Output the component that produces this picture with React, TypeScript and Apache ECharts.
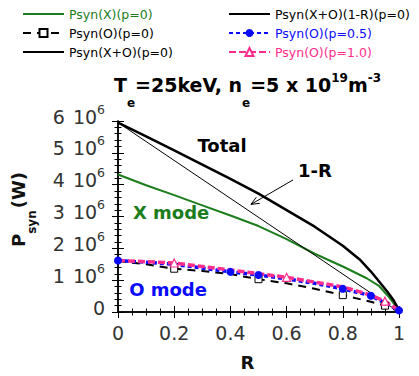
import React, { useEffect, useRef } from "react";
import * as echarts from "echarts";

const FONT = '"DejaVu Sans", Verdana, sans-serif';
const GREEN = "#1b7d1b";
const BLUE = "#0a0aff";
const PINK = "#ff2d8c";

// Psyn(X)(p=0)
const R_X = [0, 0.1, 0.2, 0.3, 0.4, 0.5, 0.6, 0.7, 0.8, 0.885, 0.93, 0.965, 1.0];
const P_X = [4.32e6, 3.98e6, 3.67e6, 3.35e6, 3.03e6, 2.7e6, 2.29e6, 1.83e6, 1.43e6, 1.06e6, 0.81e6, 0.46e6, 0.05e6];

// Psyn(O)(p=0)
const R_O0 = [0, 0.1, 0.2, 0.3, 0.4, 0.5, 0.6, 0.7, 0.8, 0.9, 0.95, 1.0];
const P_O0 = [1.6e6, 1.5e6, 1.36e6, 1.29e6, 1.19e6, 1.03e6, 0.9e6, 0.73e6, 0.53e6, 0.32e6, 0.2e6, 0.02e6];
const M_O0 = [0, 0, 1, 0, 0, 1, 0, 0, 1, 0, 1, 0];

// Psyn(X+O)(p=0)
const R_T = [0, 0.1, 0.2, 0.3, 0.4, 0.5, 0.6, 0.7, 0.8, 0.86, 0.9, 0.93, 0.96, 0.98, 1.0];
const P_T = [5.95e6, 5.52e6, 5.08e6, 4.63e6, 4.18e6, 3.72e6, 3.2e6, 2.68e6, 2.08e6, 1.65e6, 1.27e6, 0.95e6, 0.62e6, 0.38e6, 0.06e6];

// Psyn(X+O)(1-R)(p=0)
const R_L = [0, 1];
const P_L = [5.95e6, 0];

// Psyn(O)(p=0.5)
const R_O05 = [0, 0.2, 0.4, 0.5, 0.6, 0.7, 0.8, 0.9, 1.0];
const P_O05 = [1.62e6, 1.5e6, 1.26e6, 1.16e6, 1.04e6, 0.9e6, 0.73e6, 0.51e6, 0.05e6];
const M_O05 = [1, 0, 1, 1, 0, 0, 1, 1, 1];

// Psyn(O)(p=1.0)
const R_O1 = [0, 0.2, 0.4, 0.6, 0.8, 0.9, 0.95, 1.0];
const P_O1 = [1.62e6, 1.54e6, 1.32e6, 1.09e6, 0.79e6, 0.53e6, 0.34e6, 0.05e6];
const M_O1 = [0, 1, 0, 1, 0, 0, 1, 0];

const X_TICKS = { min: 0, max: 1, interval: 0.2 };
const Y_TICKS = { min: 0, max: 6e6, interval: 1e6 };

function mk(rs: number[], ps: number[], marks?: number[]) {
  return rs.map((r, i) =>
    marks && !marks[i] ? { value: [r, ps[i]], symbol: "none" } : { value: [r, ps[i]] }
  );
}

let _ctx: CanvasRenderingContext2D | null = null;
function tw(text: string, font: string) {
  if (!_ctx) _ctx = document.createElement("canvas").getContext("2d");
  _ctx!.font = font;
  return _ctx!.measureText(text).width;
}

type Part = { t: string; size: number; dy: number; gap?: number };
function run(parts: Part[], weight: string, color: string, y: number) {
  let x = 0;
  const els: any[] = [];
  for (const p of parts) {
    x += p.gap || 0;
    const font = `${weight} ${p.size}px ${FONT}`;
    els.push({
      type: "text",
      x,
      y: y + p.dy,
      silent: true,
      style: { text: p.t, font, fill: color, textAlign: "left", textVerticalAlign: "middle" },
    });
    x += tw(p.t, font);
  }
  return { els, width: x };
}

export default function App() {
  const ref = useRef<HTMLDivElement>(null);
  useEffect(() => {
    const chart = echarts.init(ref.current!, null, { renderer: "svg" });
    const axisLine = { show: true, lineStyle: { color: "#000", width: 1.5 } };
    const axisTick = { show: true, inside: true, length: 6, lineStyle: { color: "#000", width: 1 } };
    const labelStyle = { fontFamily: FONT, fontSize: 19, color: "#333" };
    const legendText = { fontFamily: FONT, fontSize: 12.5, lineHeight: 19, color: "#000" };
    const noSym = { opacity: 0 };
    const option: any = {
      animation: false,
      backgroundColor: "#fff",
      grid: { left: 118, right: 20, top: 121, bottom: 60, containLabel: false },
      legend: [
        {
          orient: "vertical",
          left: 22,
          top: 4.5,
          padding: 0,
          itemWidth: 41,
          itemHeight: 10,
          itemGap: 0,
          selectedMode: false,
          textStyle: legendText,
          data: [
            { name: "Psyn(X)(p=0)", textStyle: { color: GREEN }, itemStyle: noSym },
            { name: "Psyn(O)(p=0)", textStyle: { color: "#000" } },
            { name: "Psyn(X+O)(p=0)", textStyle: { color: "#000" }, itemStyle: noSym },
          ],
        },
        {
          orient: "vertical",
          left: 228,
          top: 4.5,
          padding: 0,
          itemWidth: 41,
          itemHeight: 10,
          itemGap: 0,
          selectedMode: false,
          textStyle: legendText,
          data: [
            { name: "Psyn(X+O)(1-R)(p=0)", textStyle: { color: "#000" }, itemStyle: noSym },
            { name: "Psyn(O)(p=0.5)", textStyle: { color: BLUE } },
            { name: "Psyn(O)(p=1.0)", textStyle: { color: PINK } },
          ],
        },
      ],
      xAxis: [
        {
          type: "value",
          ...X_TICKS,
          position: "bottom",
          axisLine,
          axisTick,
          minorTick: { show: true, splitNumber: 4, length: 3.5, lineStyle: { color: "#000" } },
          splitLine: { show: false },
          axisLabel: { ...labelStyle, margin: 11 },
          name: "R",
          nameLocation: "middle",
          nameGap: 41,
          nameTextStyle: { fontFamily: FONT, fontWeight: "bold", fontSize: 18, color: "#111", padding: [0, 22, 0, 0] },
        },
        {
          type: "value",
          ...X_TICKS,
          position: "top",
          axisLine,
          axisTick,
          minorTick: { show: true, splitNumber: 4, length: 3.5, lineStyle: { color: "#000" } },
          splitLine: { show: false },
          axisLabel: { show: false },
        },
      ],
      yAxis: [
        {
          type: "value",
          ...Y_TICKS,
          position: "left",
          axisLine,
          axisTick,
          minorTick: { show: true, splitNumber: 5, length: 3.5, lineStyle: { color: "#000" } },
          splitLine: { show: false },
          axisLabel: {
            margin: 13,
            padding: [0, 0, 9, 0],
            formatter: (v: number) => (v === 0 ? "{a|0}" : `{a|${Math.round(v / 1e6)}}{b|10}{s|6}`),
            rich: {
              a: { ...labelStyle, lineHeight: 28 },
              b: { ...labelStyle, lineHeight: 28, padding: [0, 0, 0, 8] },
              s: { fontFamily: FONT, fontSize: 12.5, color: "#333", verticalAlign: "top", lineHeight: 10 },
            },
          },
        },
        {
          type: "value",
          ...Y_TICKS,
          position: "right",
          axisLine,
          axisTick,
          minorTick: { show: true, splitNumber: 5, length: 3.5, lineStyle: { color: "#000" } },
          splitLine: { show: false },
          axisLabel: { show: false },
        },
      ],
      series: [
        {
          name: "Psyn(X)(p=0)",
          type: "line",
          data: mk(R_X, P_X),
          symbol: "none",
          lineStyle: { color: GREEN, width: 2 },
          itemStyle: { color: GREEN },
          emphasis: { disabled: true },
        },
        {
          name: "Psyn(O)(p=0)",
          type: "line",
          data: mk(R_O0, P_O0, M_O0),
          symbol: "rect",
          symbolSize: 7,
          showAllSymbol: true,
          lineStyle: { color: "#000", width: 2, type: [8, 6] },
          itemStyle: { color: "#fff", borderColor: "#000", borderWidth: 1 },
          emphasis: { disabled: true },
        },
        {
          name: "Psyn(X+O)(p=0)",
          type: "line",
          data: mk(R_T, P_T),
          symbol: "none",
          lineStyle: { color: "#000", width: 2.5 },
          itemStyle: { color: "#000" },
          emphasis: { disabled: true },
        },
        {
          name: "Psyn(X+O)(1-R)(p=0)",
          type: "line",
          data: mk(R_L, P_L),
          symbol: "none",
          lineStyle: { color: "#000", width: 1 },
          itemStyle: { color: "#000" },
          emphasis: { disabled: true },
        },
        {
          name: "Psyn(O)(p=0.5)",
          type: "line",
          data: mk(R_O05, P_O05, M_O05),
          symbol: "circle",
          symbolSize: 8,
          showAllSymbol: true,
          lineStyle: { color: BLUE, width: 3.5, type: [4, 3] },
          itemStyle: { color: BLUE },
          emphasis: { disabled: true },
        },
        {
          name: "Psyn(O)(p=1.0)",
          type: "line",
          data: mk(R_O1, P_O1, M_O1),
          symbol: "triangle",
          symbolSize: 8,
          showAllSymbol: true,
          lineStyle: { color: PINK, width: 3.5, type: [7, 3] },
          itemStyle: { color: "#fff", borderColor: PINK, borderWidth: 1.2 },
          emphasis: { disabled: true },
        },
      ],
    };
    chart.setOption(option);

    const px = (r: number, p: number) =>
      chart.convertToPixel({ xAxisIndex: 0, yAxisIndex: 0 }, [r, p]) as number[];

    // title
    const title = run(
      [
        { t: "T", size: 19, dy: 0 },
        { t: "e", size: 12, dy: 17.5 },
        { t: "=25keV, n", size: 19, dy: 0 },
        { t: "e", size: 12, dy: 17.5 },
        { t: "=5 x 10", size: 19, dy: 0 },
        { t: "19", size: 12, dy: -7.5 },
        { t: "m", size: 19, dy: 0 },
        { t: "-3", size: 12, dy: -7.5 },
      ],
      "bold",
      "#000",
      0
    );
    // y axis name
    const yname = run(
      [
        { t: "P", size: 18, dy: 0 },
        { t: "syn", size: 12, dy: 13 },
        { t: "(W)", size: 18, dy: 0, gap: 2 },
      ],
      "bold",
      "#111",
      0
    );

    const ann = (text: string, r: number, p: number, color: string) => {
      const [x, y] = px(r, p);
      return {
        type: "text",
        x,
        y,
        silent: true,
        style: {
          text,
          font: `bold 18px ${FONT}`,
          fill: color,
          textAlign: "center",
          textVerticalAlign: "middle",
        },
      };
    };
    const [ax0, ay0] = px(0.623, 4.15e6);
    const [ax1, ay1] = px(0.473, 3.38e6);
    const ang = Math.atan2(ay0 - ay1, ax0 - ax1);
    const hl = 9;
    const spread = 0.4;
    const head = [
      [ax1 + hl * Math.cos(ang + spread), ay1 + hl * Math.sin(ang + spread)],
      [ax1, ay1],
      [ax1 + hl * Math.cos(ang - spread), ay1 + hl * Math.sin(ang - spread)],
    ];

    chart.setOption({
      graphic: {
        elements: [
          { type: "group", x: 247.5 - title.width / 2, y: 85, children: title.els, silent: true },
          { type: "group", x: 18.7, y: 247, rotation: Math.PI / 2, children: yname.els, silent: true },
          ann("Total", 0.37, 5.23e6, "#000"),
          ann("1-R", 0.701, 4.43e6, "#000"),
          ann("X mode", 0.189, 3.11e6, GREEN),
          ann("O mode", 0.178, 0.71e6, BLUE),
          {
            type: "line",
            silent: true,
            shape: { x1: ax0, y1: ay0, x2: ax1, y2: ay1 },
            style: { stroke: "#000", lineWidth: 1 },
          },
          {
            type: "polyline",
            silent: true,
            shape: { points: head },
            style: { stroke: "#000", lineWidth: 1, fill: null },
          },
        ],
      },
    });

    return () => chart.dispose();
  }, []);
  return (
    <div
      ref={ref}
      style={{ position: "fixed", left: 0, top: 0, width: 419, height: 376, background: "#fff" }}
    />
  );
}
